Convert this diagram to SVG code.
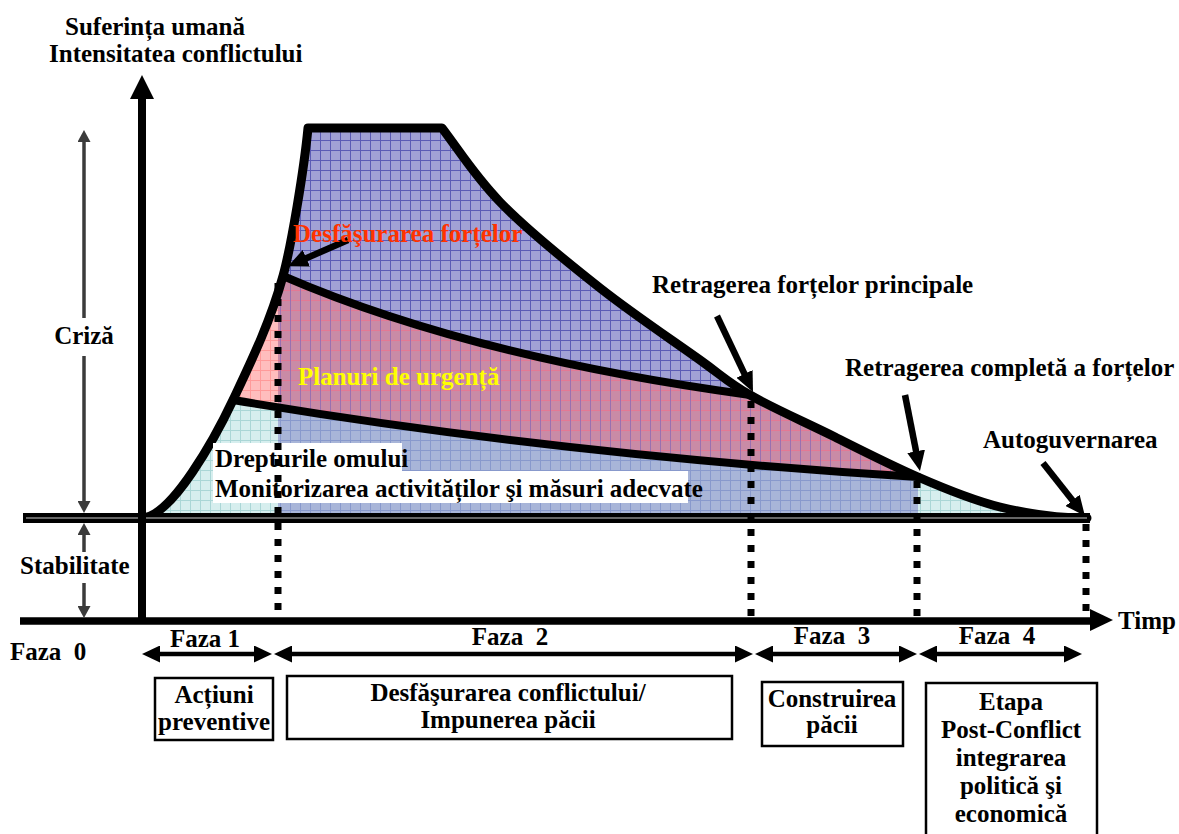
<svg xmlns="http://www.w3.org/2000/svg" width="1179" height="834" viewBox="0 0 1179 834">
  <style>
    .t { font-family: "Liberation Serif", "Times New Roman", serif; font-weight: bold; font-size: 25px; fill: #000; white-space: pre; }
    .mid { text-anchor: middle; }
    .curve { fill: none; stroke: #000; stroke-width: 9; stroke-linejoin: round; stroke-linecap: round; }
    .inner { fill: none; stroke: #000; stroke-width: 8; stroke-linecap: round; }
    .dots { fill: none; stroke: #000; stroke-width: 7; stroke-dasharray: 7 9; }
    .ptr { fill: none; stroke: #000; stroke-width: 6.5; marker-end: url(#head); }
    .phase { fill: none; stroke: #000; stroke-width: 4.5; marker-start: url(#phaseHead); marker-end: url(#phaseHead); }
    .dim { fill: none; stroke: #3b3b3b; stroke-width: 3.5; }
    .box { fill: #fff; stroke: #000; stroke-width: 2.5; }
  </style>
  <defs>
    <!-- grid-textured fills for the bands under the curve -->
    <pattern id="pBlue" width="10" height="10" patternUnits="userSpaceOnUse">
      <rect width="10" height="10" fill="#a1a1d5"/>
      <path d="M0 0.5H10M0.5 0V10" stroke="#5b5bb5" stroke-width="1"/>
    </pattern>
    <pattern id="pPink" width="10" height="10" patternUnits="userSpaceOnUse">
      <rect width="10" height="10" fill="#ffbdbd"/>
      <path d="M0 0.5H10M0.5 0V10" stroke="#ff9a9a" stroke-width="1"/>
    </pattern>
    <pattern id="pMauve" width="10" height="10" patternUnits="userSpaceOnUse">
      <rect width="10" height="10" fill="#c98ba6"/>
      <path d="M0 0.5H10" stroke="#e47894" stroke-width="1"/>
      <path d="M0.5 0V10" stroke="#9a70b0" stroke-width="1"/>
    </pattern>
    <pattern id="pCyan" width="10" height="10" patternUnits="userSpaceOnUse">
      <rect width="10" height="10" fill="#d6eeee"/>
      <path d="M0 0.5H10M0.5 0V10" stroke="#aad6d6" stroke-width="1"/>
    </pattern>
    <pattern id="pSteel" width="10" height="10" patternUnits="userSpaceOnUse">
      <rect width="10" height="10" fill="#a8b5d8"/>
      <path d="M0 0.5H10M0.5 0V10" stroke="#8899cc" stroke-width="1"/>
    </pattern>
    <clipPath id="leftOfPhase2"><rect x="0" y="0" width="278" height="620"/></clipPath>
    <clipPath id="rightOfPhase1"><rect x="278" y="0" width="900" height="620"/></clipPath>
    <clipPath id="phases23"><rect x="278" y="0" width="640" height="620"/></clipPath>
    <marker id="head" viewBox="0 0 20 18" refX="2" refY="9" markerWidth="20" markerHeight="18" markerUnits="userSpaceOnUse" orient="auto">
      <path d="M0,0 L20,9 L0,18 Z" fill="#000"/>
    </marker>
    <marker id="phaseHead" viewBox="0 0 18 17" refX="2" refY="8.5" markerWidth="18" markerHeight="17" markerUnits="userSpaceOnUse" orient="auto-start-reverse">
      <path d="M0,0 L18,8.5 L0,17 Z" fill="#000"/>
    </marker>
    <marker id="dimHead" viewBox="0 0 12 13" refX="1" refY="6.5" markerWidth="12" markerHeight="13" markerUnits="userSpaceOnUse" orient="auto-start-reverse">
      <path d="M0,0 L12,6.5 L0,13 Z" fill="#3b3b3b"/>
    </marker>
  </defs>

  <!-- shaded bands -->
  <g id="bands">
    <path id="band-forces" fill="url(#pBlue)" d="M283,276 C291,247 304,170 308,128 L442,128 C461,153 474,175 500,202 C526,229 567,262 600,288 C633,314 675,342 700,360 C725,378 727.5,382 750,395 Q470,357 283,276 Z"/>
    <g id="band-contingency">
      <path fill="url(#pPink)" clip-path="url(#leftOfPhase2)" d="M233,400 C250,364 270,323 283,276 Q470,357 750,395 C772.5,408 807,423 835,437 C863,451 890.5,465 918,477 Q560,455 233,400 Z"/>
      <path fill="url(#pMauve)" clip-path="url(#rightOfPhase1)" d="M233,400 C250,364 270,323 283,276 Q470,357 750,395 C772.5,408 807,423 835,437 C863,451 890.5,465 918,477 Q560,455 233,400 Z"/>
    </g>
    <g id="band-rights">
      <path fill="url(#pCyan)" d="M142,518 C172,517 216,436 233,400 Q560,455 918,477 C945.5,489 972,500 1000,507 C1028,514 1060,518 1087,518 Z"/>
      <path fill="url(#pSteel)" clip-path="url(#phases23)" d="M142,518 C172,517 216,436 233,400 Q560,455 918,477 C945.5,489 972,500 1000,507 C1028,514 1060,518 1087,518 Z"/>
    </g>
  </g>

  <!-- curve outlines -->
  <g id="outlines">
    <path class="inner" d="M283,276 Q470,357 750,395"/>
    <path class="inner" d="M233,400 Q560,455 918,477"/>
    <path class="curve" d="M142,518 C172,517 216,436 233,400 C250,364 270,323 283,276 C291,247 304,170 308,128 L442,128 C461,153 474,175 500,202 C526,229 567,262 600,288 C633,314 675,342 700,360 C725,378 727.5,382 750,395 C772.5,408 807,423 835,437 C863,451 890.5,465 918,477 C945.5,489 972,500 1000,507 C1028,514 1060,518 1087,518"/>
  </g>

  <!-- axes and stability line -->
  <g id="axes">
    <line x1="23" y1="518" x2="1090" y2="518" stroke="#000" stroke-width="10"/>
    <line x1="26" y1="518" x2="1087" y2="518" stroke="#666" stroke-width="1.8"/>
    <line x1="20" y1="621" x2="1092" y2="621" stroke="#000" stroke-width="7.5"/>
    <polygon points="1113,620 1090,609 1090,631" fill="#000"/>
    <line x1="142" y1="97" x2="142" y2="621" stroke="#000" stroke-width="8"/>
    <polygon points="142,75 130,99 154,99" fill="#000"/>
  </g>

  <!-- text panel on the lowest band -->
  <g id="rights-label">
    <rect x="213" y="443" width="189" height="29" fill="#fff"/>
    <rect x="213" y="471" width="475" height="32" fill="#fff"/>
    <text class="t" x="215" y="467">Drepturile omului</text>
    <text class="t" x="215" y="497">Monitorizarea activităților şi măsuri adecvate</text>
  </g>

  <!-- connectors: phase boundaries, pointers, ranges -->
  <g id="connectors">
    <line class="dots" x1="278" y1="283" x2="278" y2="620"/>
    <line class="dots" x1="751" y1="401" x2="751" y2="620"/>
    <line class="dots" x1="917" y1="481" x2="917" y2="620"/>
    <line class="dots" x1="1086" y1="524" x2="1086" y2="620"/>

    <path class="ptr" d="M348,240 L304.5,259"/>
    <path class="ptr" d="M717,316 L745.3,375.7"/>
    <path class="ptr" d="M905,395 L916.5,453.3"/>
    <path class="ptr" d="M1043,463 L1073.8,501.9"/>

    <line class="phase" x1="158" y1="654" x2="256" y2="654"/>
    <line class="phase" x1="290" y1="654" x2="737" y2="654"/>
    <line class="phase" x1="771" y1="654" x2="901" y2="654"/>
    <line class="phase" x1="935" y1="654" x2="1066" y2="654"/>

    <line class="dim" x1="84" y1="141" x2="84" y2="318" marker-start="url(#dimHead)"/>
    <line class="dim" x1="84" y1="356" x2="84" y2="502" marker-end="url(#dimHead)"/>
    <line class="dim" x1="84" y1="534" x2="84" y2="552" marker-start="url(#dimHead)"/>
    <line class="dim" x1="84" y1="583" x2="84" y2="607" marker-end="url(#dimHead)"/>
  </g>

  <!-- axis titles and annotations -->
  <g id="axis-title"><text class="t" x="65" y="35">Suferința umană</text><text class="t" x="49" y="62">Intensitatea conflictului</text></g>
  <g id="label-crisis"><text class="t mid" x="84" y="344">Criză</text></g>
  <g id="label-stability"><text class="t" x="20" y="574">Stabilitate</text></g>
  <g id="label-time"><text class="t" x="1118" y="629">Timp</text></g>
  <g id="label-deploy"><text class="t" x="293" y="242" fill="#ff3300" style="fill:#ff3300">Desfăşurarea forțelor</text></g>
  <g id="label-plans"><text class="t" x="298" y="385" style="fill:#ffff00">Planuri de urgență</text></g>
  <g id="label-withdraw-main"><text class="t" x="652" y="293">Retragerea forțelor principale</text></g>
  <g id="label-withdraw-full"><text class="t" x="845" y="376">Retragerea completă a forțelor</text></g>
  <g id="label-selfgov"><text class="t" x="983" y="448">Autoguvernarea</text></g>

  <!-- phase captions -->
  <g id="phase0"><text class="t" x="10" y="660">Faza  0</text></g>
  <g id="phase1"><text class="t mid" x="205" y="647">Faza 1</text></g>
  <g id="phase2"><text class="t mid" x="510" y="645">Faza  2</text></g>
  <g id="phase3"><text class="t mid" x="832" y="644">Faza  3</text></g>
  <g id="phase4"><text class="t mid" x="997" y="644">Faza  4</text></g>

  <!-- phase description boxes -->
  <g id="box-preventive">
    <rect class="box" x="155" y="678" width="118" height="62"/>
    <text class="t mid" x="214" y="703">Acțiuni</text>
    <text class="t mid" x="214" y="730">preventive</text>
  </g>
  <g id="box-conflict">
    <rect class="box" x="287" y="676" width="445" height="63"/>
    <text class="t mid" x="508" y="701">Desfăşurarea conflictului/</text>
    <text class="t mid" x="508" y="728">Impunerea păcii</text>
  </g>
  <g id="box-peacebuilding">
    <rect class="box" x="762" y="682" width="141" height="64"/>
    <text class="t mid" x="832" y="707">Construirea</text>
    <text class="t mid" x="832" y="733">păcii</text>
  </g>
  <g id="box-postconflict">
    <rect class="box" x="926" y="683" width="171" height="160"/>
    <text class="t mid" x="1011" y="710">Etapa</text>
    <text class="t mid" x="1011" y="738">Post-Conflict</text>
    <text class="t mid" x="1011" y="766">integrarea</text>
    <text class="t mid" x="1011" y="794">politică şi</text>
    <text class="t mid" x="1011" y="822">economică</text>
  </g>
</svg>
